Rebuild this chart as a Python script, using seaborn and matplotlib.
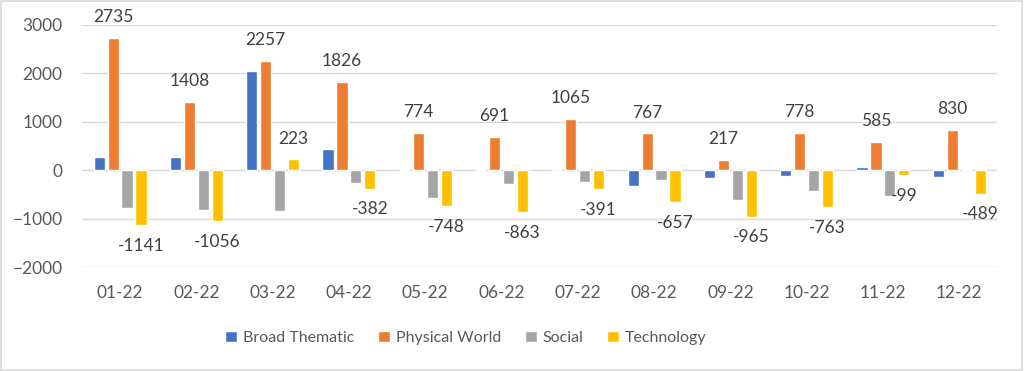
import pandas as pd
import seaborn as sns
import matplotlib
matplotlib.use('Agg')
import matplotlib.pyplot as plt
from matplotlib.patches import Rectangle

months = ['01-22', '02-22', '03-22', '04-22', '05-22', '06-22',
          '07-22', '08-22', '09-22', '10-22', '11-22', '12-22']
series = ['Broad Thematic', 'Physical World', 'Social', 'Technology']
broad_thematic = [275, 280, 2040, 440, 0, 5, 0, -330, -170, -125, 75, -135]
physical_world = [2735, 1408, 2257, 1826, 774, 691, 1065, 767, 217, 778, 585, 830]
social = [-770, -830, -840, -260, -570, -275, -250, -195, -620, -435, -540, 0]
technology = [-1141, -1056, 223, -382, -748, -863, -391, -657, -965, -763, -99, -489]
colors = ['#4472C4', '#ED7D31', '#A5A5A5', '#FFC000']

rows = []
for name, vals in zip(series, [broad_thematic, physical_world, social, technology]):
    for m, v in zip(months, vals):
        rows.append({'month': m, 'series': name, 'value': v})
df = pd.DataFrame(rows)

sns.set_style('white')
plt.rcParams['font.family'] = ['Lato', 'DejaVu Sans']

fig = plt.figure(figsize=(10.24, 3.71), dpi=100)
ax = fig.add_axes([0.080, 0.280, 0.894, 0.653])

sns.barplot(data=df, x='month', y='value', hue='series', hue_order=series,
            order=months, palette=colors, width=0.73, gap=0.2,
            errorbar=None, saturation=1, ax=ax)

# data labels only on Physical World and Technology
for idx in [1, 3]:
    ax.bar_label(ax.containers[idx], labels=[str(v) for v in [physical_world, technology][idx // 2]],
                 padding=9, fontsize=12.5, color='#404040')

ax.set_ylim(-2000, 3000)
ax.set_xlim(-0.5, 11.5)
ax.set_yticks([-2000, -1000, 0, 1000, 2000, 3000])
ax.yaxis.grid(True, color='#D9D9D9', linewidth=1)
ax.set_axisbelow(True)
for s in ax.spines.values():
    s.set_visible(False)
ax.tick_params(axis='both', length=0, labelsize=12.5, colors='#595959')
ax.tick_params(axis='y', pad=14)
ax.tick_params(axis='x', pad=13)
ax.set_xlabel('')
ax.set_ylabel('')

handles, labels = ax.get_legend_handles_labels()
ax.legend(handles, labels, loc='center', bbox_to_anchor=(0.455, 0.089),
          bbox_transform=fig.transFigure, ncol=4, frameon=False,
          handlelength=0.75, handleheight=0.75, handletextpad=0.35,
          columnspacing=1.5, fontsize=11.5, labelcolor='#595959')

fig.patches.append(Rectangle((0.001, 0.002), 0.997, 0.995, transform=fig.transFigure,
                             fill=False, edgecolor='#D9D9D9', linewidth=1.2))

fig.savefig('out.png', dpi=100)
